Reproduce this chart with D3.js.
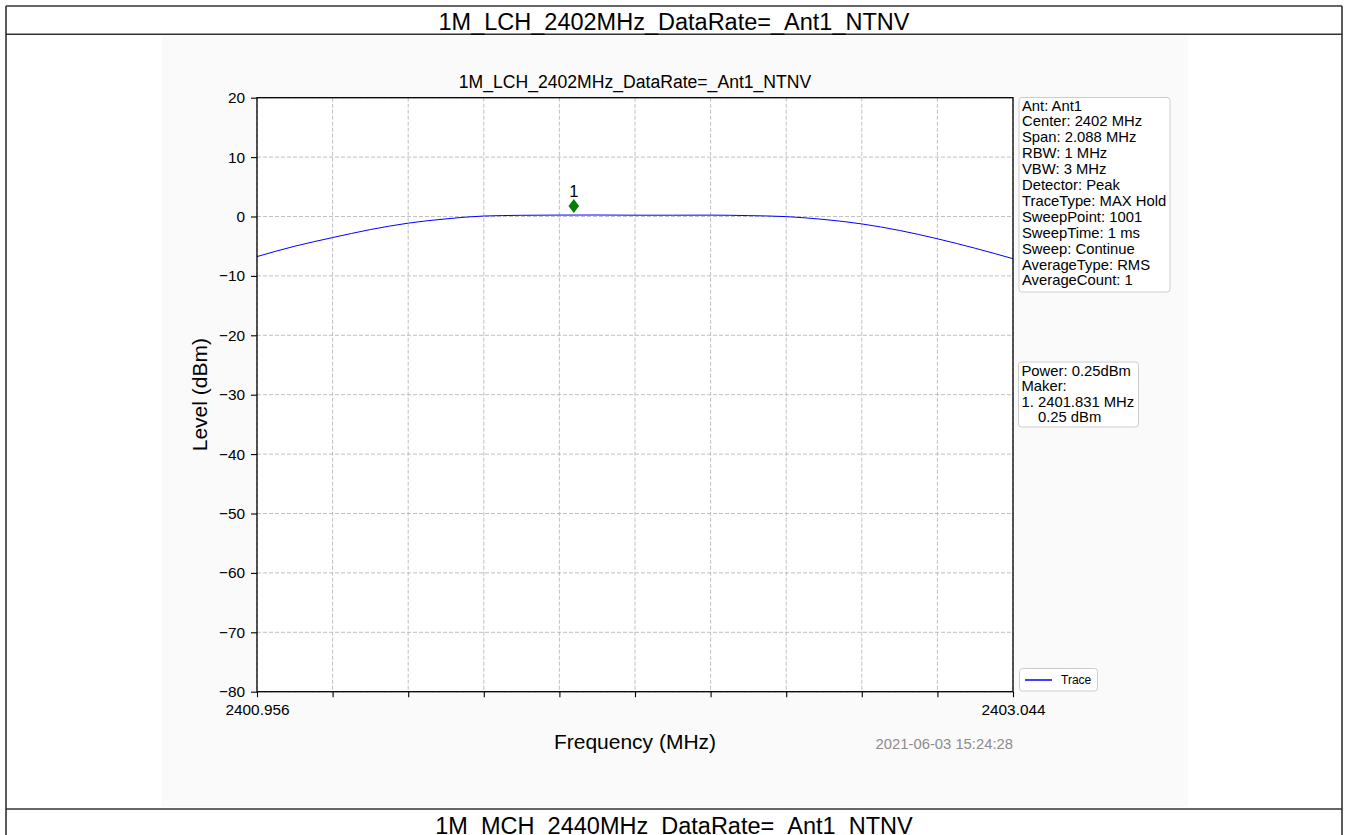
<!DOCTYPE html>
<html>
<head>
<meta charset="utf-8">
<script src="https://cdn.jsdelivr.net/npm/d3@7/dist/d3.min.js"></script>
<style>
  html, body { margin: 0; padding: 0; background: #ffffff; }
  svg { display: block; }
  text { font-family: "Liberation Sans", Arial, sans-serif; }
</style>
</head>
<body>
<svg id="chart" width="1346" height="835"></svg>
<script>
// ---------- DATA ----------
const headingTitle = "1M_LCH_2402MHz_DataRate=_Ant1_NTNV";
const nextHeadingTitle = "1M_MCH_2440MHz_DataRate=_Ant1_NTNV";
const chartTitle = "1M_LCH_2402MHz_DataRate=_Ant1_NTNV";
const xLabel = "Frequency (MHz)";
const yLabel = "Level (dBm)";
const timestamp = "2021-06-03 15:24:28";

const freqMHz = [2400.956, 2401.0604, 2401.1648, 2401.2692, 2401.3736, 2401.478, 2401.5824,
  2401.6868, 2401.7912, 2401.8956, 2402.0, 2402.1044, 2402.2088, 2402.3132, 2402.4176,
  2402.522, 2402.6264, 2402.7308, 2402.8352, 2402.9396, 2403.044];
const levelDbm = [-6.75, -5.0, -3.55, -2.2, -1.12, -0.4, 0.08,
  0.2, 0.24, 0.25, 0.22, 0.22, 0.23, 0.15, -0.02,
  -0.5, -1.25, -2.35, -3.75, -5.35, -7.1];

const xDomain = [2400.956, 2403.044];
const yDomain = [-80, 20];
const xTickValues = [2400.956, 2401.1648, 2401.3736, 2401.5824, 2401.7912, 2402.0,
  2402.2088, 2402.4176, 2402.6264, 2402.8352, 2403.044];
const xTickLabels = ["2400.956", "", "", "", "", "", "", "", "", "", "2403.044"];
const yTickValues = [20, 10, 0, -10, -20, -30, -40, -50, -60, -70, -80];

const markerFreq = [2401.831];
const markerLevel = [0.25];
const markerNames = ["1"];

const infoLines = ["Ant: Ant1", "Center: 2402 MHz", "Span: 2.088 MHz", "RBW: 1 MHz", "VBW: 3 MHz",
  "Detector: Peak", "TraceType: MAX Hold", "SweepPoint: 1001", "SweepTime: 1 ms",
  "Sweep: Continue", "AverageType: RMS", "AverageCount: 1"];
const powerLines = ["Power: 0.25dBm", "Maker:", "1. 2401.831 MHz", "    0.25 dBm"];
const legendLabels = ["Trace"];

// ---------- LAYOUT ----------
const svg = d3.select("#chart");
const plot = { left: 257, right: 1013, top: 97.7, bottom: 691.7 };
const x = d3.scaleLinear().domain(xDomain).range([plot.left, plot.right]);
const y = d3.scaleLinear().domain(yDomain).range([plot.bottom, plot.top]);

// figure background (embedded image area)
svg.append("rect").attr("x", 162).attr("y", 36).attr("width", 1026).attr("height", 771)
  .attr("fill", "#fafafa");
svg.append("rect").attr("x", plot.left).attr("y", plot.top)
  .attr("width", plot.right - plot.left).attr("height", plot.bottom - plot.top)
  .attr("fill", "#ffffff");

// table borders
const border = "#333333";
[[6, 6, 1342, 6], [6, 34.3, 1342, 34.3], [6, 809, 1342, 809], [6, 6, 6, 835], [1342, 6, 1342, 835]]
  .forEach(l => svg.append("line").attr("x1", l[0]).attr("y1", l[1]).attr("x2", l[2]).attr("y2", l[3])
    .attr("stroke", border).attr("stroke-width", 1.6));

svg.append("text").attr("x", 674).attr("y", 30).attr("text-anchor", "middle")
  .attr("font-size", 23.5).attr("fill", "#000").text(headingTitle);
svg.append("text").attr("x", 674).attr("y", 833.5).attr("text-anchor", "middle")
  .attr("font-size", 23.5).attr("fill", "#000").text(nextHeadingTitle);

// grid
const grid = svg.append("g");
grid.selectAll("line.gx").data(xTickValues).join("line")
  .attr("x1", d => x(d)).attr("x2", d => x(d)).attr("y1", plot.top).attr("y2", plot.bottom)
  .attr("stroke", "#b0b0b0").attr("stroke-width", 0.8).attr("stroke-dasharray", "4,2");
grid.selectAll("line.gy").data(yTickValues).join("line")
  .attr("y1", d => y(d)).attr("y2", d => y(d)).attr("x1", plot.left).attr("x2", plot.right)
  .attr("stroke", "#b0b0b0").attr("stroke-width", 0.8).attr("stroke-dasharray", "4,2");

// trace
const line = d3.line().x((d, i) => x(freqMHz[i])).y(d => y(d)).curve(d3.curveMonotoneX);
svg.append("path").datum(levelDbm).attr("d", line)
  .attr("fill", "none").attr("stroke", "#0000ff").attr("stroke-width", 1);

// frame
svg.append("rect").attr("x", plot.left).attr("y", plot.top)
  .attr("width", plot.right - plot.left).attr("height", plot.bottom - plot.top)
  .attr("fill", "none").attr("stroke", "#000").attr("stroke-width", 1.3);

// axes
const xAxis = d3.axisBottom(x).tickValues(xTickValues)
  .tickFormat((d, i) => xTickLabels[i]).tickSizeOuter(0).tickSize(5.5).tickPadding(7);
const gx = svg.append("g").attr("transform", `translate(0,${plot.bottom})`).call(xAxis);
gx.select(".domain").remove();
gx.selectAll("line").attr("stroke", "#000").attr("stroke-width", 1.1);
gx.selectAll("text").attr("font-size", 15.4).attr("fill", "#000")
  .attr("font-family", "Liberation Sans, Arial, sans-serif");

const yAxis = d3.axisLeft(y).tickValues(yTickValues)
  .tickFormat(d => (d < 0 ? "\u2212" + Math.abs(d) : String(d))).tickSizeOuter(0).tickSize(6).tickPadding(6);
const gy = svg.append("g").attr("transform", `translate(${plot.left},0)`).call(yAxis);
gy.select(".domain").remove();
gy.selectAll("line").attr("stroke", "#000").attr("stroke-width", 1.1);
gy.selectAll("text").attr("font-size", 15.4).attr("fill", "#000")
  .attr("font-family", "Liberation Sans, Arial, sans-serif");

// titles / labels
svg.append("text").attr("x", (plot.left + plot.right) / 2).attr("y", 88.3).attr("text-anchor", "middle")
  .attr("font-size", 17.6).attr("fill", "#000").text(chartTitle);
svg.append("text").attr("x", (plot.left + plot.right) / 2).attr("y", 748.5).attr("text-anchor", "middle")
  .attr("font-size", 21).attr("fill", "#000").text(xLabel);
svg.append("text").attr("transform", `translate(207,${(plot.top + plot.bottom) / 2}) rotate(-90)`)
  .attr("text-anchor", "middle").attr("font-size", 21).attr("fill", "#000").text(yLabel);
svg.append("text").attr("x", plot.right).attr("y", 748.5).attr("text-anchor", "end")
  .attr("font-size", 14.8).attr("fill", "#8c8c8c").text(timestamp);

// marker
const mg = svg.append("g");
mg.selectAll("path").data(markerFreq).join("path")
  .attr("transform", (d, i) => `translate(${x(d)},${y(markerLevel[i]) - 9})`)
  .attr("d", "M0,-7L5.3,0L0,7L-5.3,0Z").attr("fill", "#008000");
mg.selectAll("text").data(markerFreq).join("text")
  .attr("x", d => x(d)).attr("y", (d, i) => y(markerLevel[i]) - 18.5)
  .attr("text-anchor", "middle").attr("font-size", 16.5).attr("fill", "#000")
  .text((d, i) => markerNames[i]);

// info box
function textBox(lines, bx, by, bw, bh, firstBaseline, step) {
  svg.append("rect").attr("x", bx).attr("y", by).attr("width", bw).attr("height", bh)
    .attr("rx", 3).attr("fill", "#ffffff").attr("stroke", "#cccccc").attr("stroke-width", 1);
  svg.append("g").selectAll("text").data(lines).join("text")
    .attr("x", bx + 3).attr("y", (d, i) => firstBaseline + i * step)
    .attr("font-size", 14.8).attr("fill", "#000").style("white-space", "pre").text(d => d);
}
textBox(infoLines, 1019, 97.5, 151, 194.5, 110.5, 15.9);
textBox(powerLines, 1018.5, 362, 120, 65, 375.5, 15.6);

// legend
svg.append("rect").attr("x", 1019.5).attr("y", 668.5).attr("width", 78).attr("height", 22.5)
  .attr("rx", 3).attr("fill", "#ffffff").attr("stroke", "#cccccc").attr("stroke-width", 1);
svg.append("g").selectAll("line").data(legendLabels).join("line")
  .attr("x1", 1025).attr("x2", 1052).attr("y1", 680).attr("y2", 680)
  .attr("stroke", "#0000ff").attr("stroke-width", 1.5);
svg.append("g").selectAll("text").data(legendLabels).join("text")
  .attr("x", 1061).attr("y", 684.3).attr("font-size", 12).attr("fill", "#000").text(d => d);
</script>
</body>
</html>
